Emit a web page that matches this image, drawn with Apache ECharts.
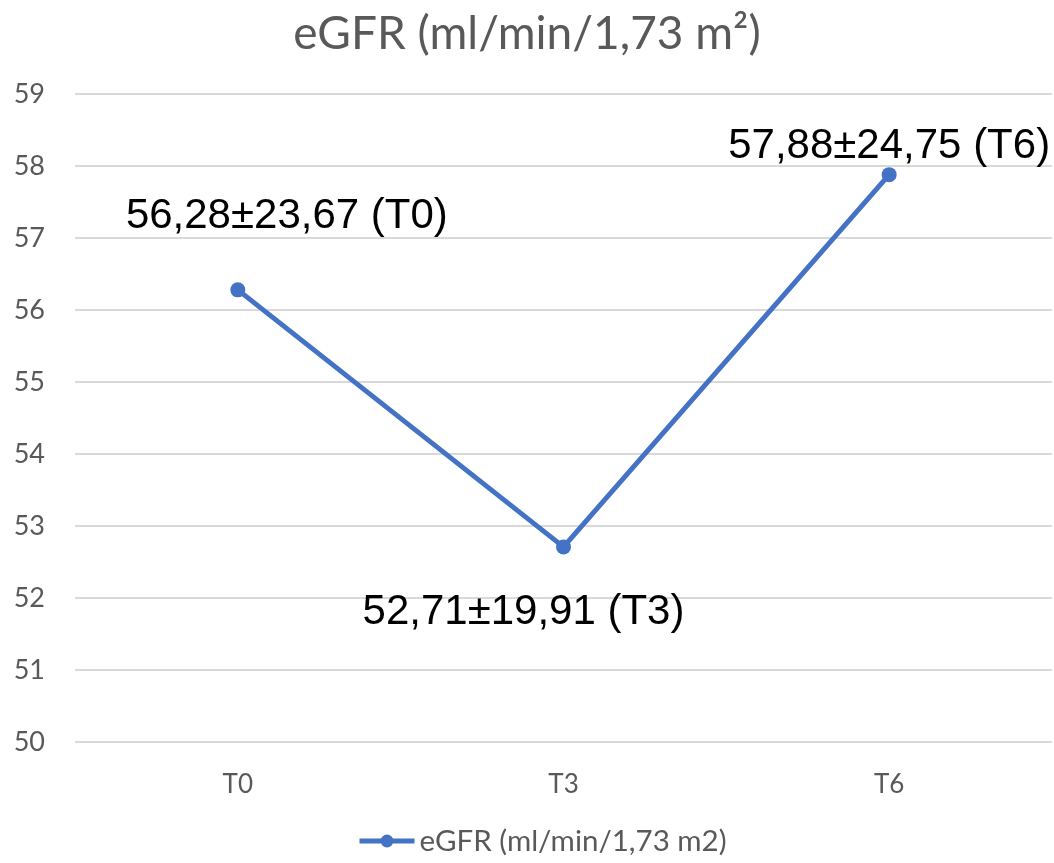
<!DOCTYPE html>
<html>
<head>
<meta charset="utf-8">
<script src="https://cdn.jsdelivr.net/npm/echarts@6/dist/echarts.min.js"></script>
<style>
  html, body { margin: 0; padding: 0; background: #fff; }
  #chart { width: 1054px; height: 863px; }
</style>
</head>
<body>
<div id="chart"></div>
<script>
const categories = ['T0', 'T3', 'T6']
const egfrValues = [56.28, 52.71, 57.88]
const pointLabels = ['56,28±23,67 (T0)', '52,71±19,91 (T3)', '57,88±24,75 (T6)']
const seriesName = 'eGFR (ml/min/1,73 m2)'

// label placement per point
const labelPos = [
  { position: 'top', offset: [49, -40] },
  { position: 'bottom', offset: [-40, 32] },
  { position: 'top', offset: [0, 5] }
]

const chart = echarts.init(document.getElementById('chart'))

chart.setOption({
  animation: false,
  title: {
    text: 'eGFR (ml/min/1,73 m²)',
    left: 'center',
    top: 6,
    textStyle: { fontFamily: 'Lato', fontSize: 46, fontWeight: 'normal', color: '#595959' }
  },
  legend: {
    bottom: 2,
    left: 352,
    itemWidth: 55,
    itemHeight: 16,
    itemGap: 6,
    lineStyle: { width: 5 },
    textStyle: { fontFamily: 'Lato', fontSize: 29.5, color: '#595959' },
    data: [seriesName]
  },
  grid: { left: 75, right: 2, top: 94, bottom: 121 },
  xAxis: {
    type: 'category',
    data: categories,
    axisLine: { show: false },
    axisTick: { show: false },
    axisLabel: { fontFamily: 'Lato', fontSize: 26, color: '#595959', margin: 30 }
  },
  yAxis: {
    type: 'value',
    min: 50,
    max: 59,
    interval: 1,
    axisLine: { show: false },
    axisTick: { show: false },
    axisLabel: { fontFamily: 'Lato', fontSize: 27, color: '#595959', margin: 30 },
    splitLine: { lineStyle: { color: '#d9d9d9', width: 2 } }
  },
  series: [{
    name: seriesName,
    type: 'line',
    symbol: 'circle',
    symbolSize: 15,
    lineStyle: { color: '#4472C4', width: 5 },
    itemStyle: { color: '#4472C4' },
    data: egfrValues.map((v, i) => ({
      value: v,
      label: {
        show: true,
        formatter: pointLabels[i],
        position: labelPos[i].position,
        offset: labelPos[i].offset,
        fontFamily: 'Liberation Sans',
        fontSize: 42,
        color: '#000'
      }
    }))
  }]
})
</script>
</body>
</html>
